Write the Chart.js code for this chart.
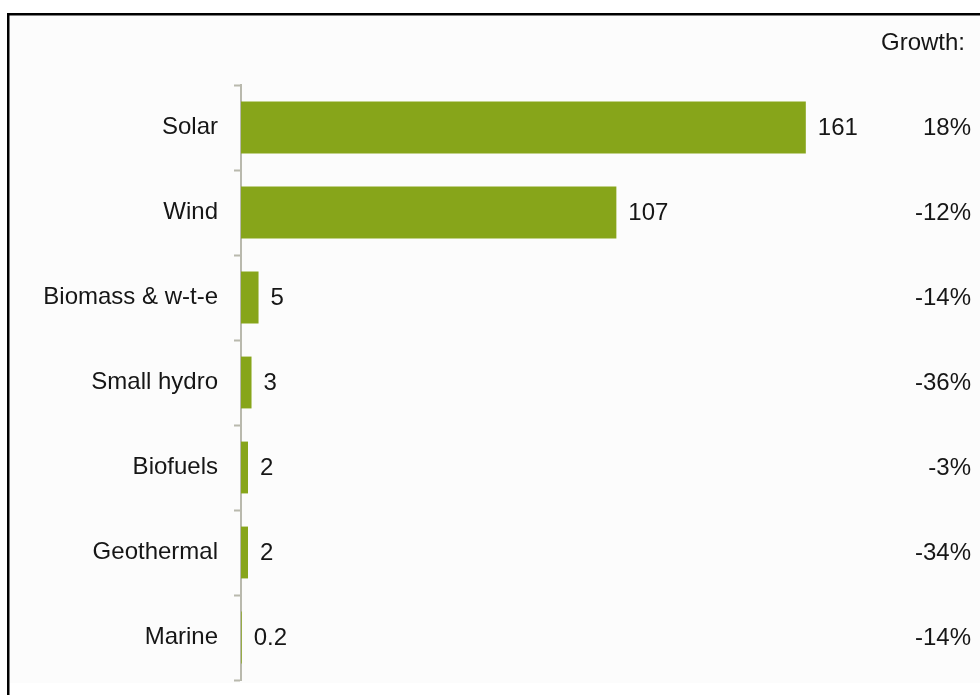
<!DOCTYPE html>
<html>
<head>
<meta charset="utf-8">
<script src="https://cdn.jsdelivr.net/npm/chart.js@4/dist/chart.umd.min.js"></script>
<style>
  html, body { margin: 0; padding: 0; background: #ffffff; }
  #wrap { position: relative; width: 980px; height: 695px; }
  canvas { display: block; }
</style>
</head>
<body>
<div id="wrap"><canvas id="c" width="980" height="695"></canvas></div>
<script>
const categories = ["Solar", "Wind", "Biomass & w-t-e", "Small hydro", "Biofuels", "Geothermal", "Marine"];
const investment = [161, 107, 5, 3, 2, 2, 0.2];
const valueLabels = ["161", "107", "5", "3", "2", "2", "0.2"];
const growthLabels = ["18%", "-12%", "-14%", "-36%", "-3%", "-34%", "-14%"];
const growthHeader = "Growth:";

const FONT = '"Liberation Sans", Arial, sans-serif';
const FS = 24;

const frame = {
  id: 'frame',
  beforeDraw(chart) {
    const ctx = chart.ctx;
    ctx.save();
    ctx.fillStyle = '#fcfcfc';
    ctx.fillRect(9, 15, 971, 668);
    ctx.fillStyle = '#000000';
    ctx.fillRect(7, 13, 973, 2.5);
    ctx.fillRect(7, 13, 2.5, 682);
    ctx.restore();
  }
};

const labelsPlugin = {
  id: 'labels',
  afterDatasetsDraw(chart) {
    const ctx = chart.ctx;
    const meta = chart.getDatasetMeta(0);
    ctx.save();
    ctx.font = FS + 'px ' + FONT;
    ctx.fillStyle = '#161616';
    ctx.textBaseline = 'middle';
    meta.data.forEach((bar, i) => {
      ctx.textAlign = 'left';
      ctx.fillText(valueLabels[i], bar.x + 12, bar.y + 1);
      ctx.textAlign = 'right';
      ctx.fillText(growthLabels[i], 971, bar.y + 1);
    });
    ctx.textAlign = 'right';
    ctx.fillText(growthHeader, 965, 43);
    ctx.restore();
  }
};

new Chart(document.getElementById('c'), {
  type: 'bar',
  data: {
    labels: categories,
    datasets: [{
      data: investment,
      backgroundColor: '#87a51a',
      borderWidth: 0,
      categoryPercentage: 1,
      barPercentage: 0.61
    }]
  },
  options: {
    indexAxis: 'y',
    responsive: false,
    animation: false,
    devicePixelRatio: 1,
    layout: { padding: { left: 0, right: 90, top: 85, bottom: 15 } },
    plugins: { legend: { display: false }, tooltip: { enabled: false } },
    scales: {
      x: { display: false, min: 0, max: 185 },
      y: {
        afterFit(scale) {
          scale.width = 241;
          scale.paddingTop = 0;
          scale.paddingBottom = 0;
        },
        grid: {
          drawOnChartArea: false,
          drawTicks: true,
          tickLength: 7,
          tickWidth: 2,
          color: '#b9b9ad',
          offset: true
        },
        border: { display: true, color: '#b9b9ad', width: 2 },
        ticks: {
          padding: 16,
          color: '#161616',
          font: { family: FONT, size: FS }
        }
      }
    }
  },
  plugins: [frame, labelsPlugin]
});
</script>
</body>
</html>
